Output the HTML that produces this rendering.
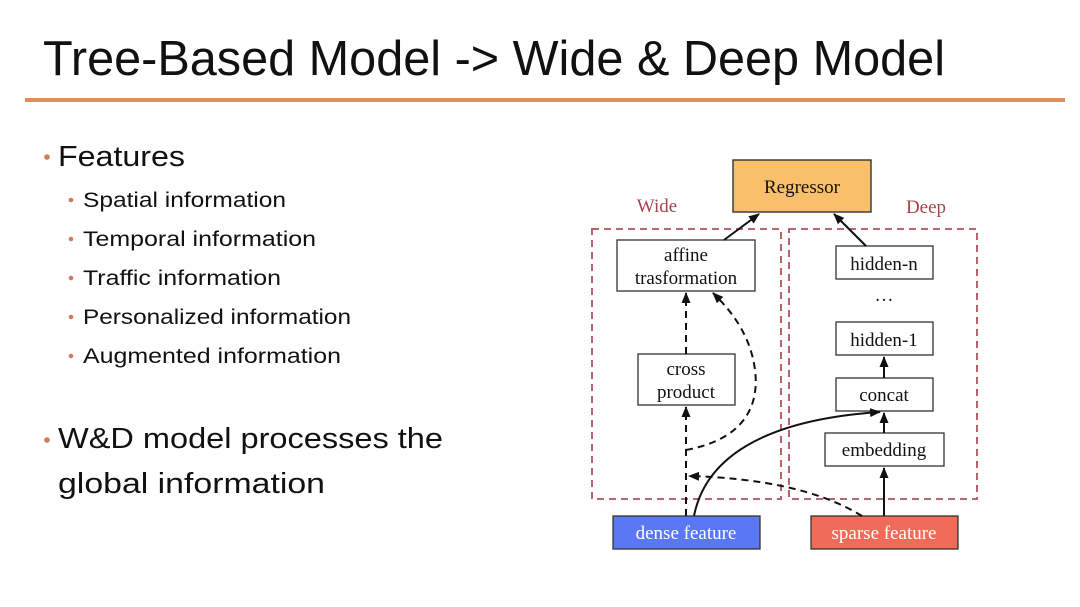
<!DOCTYPE html>
<html><head><meta charset="utf-8"><style>
html,body{margin:0;padding:0;background:#fff;}
svg{display:block;}
.s{font-family:"Liberation Sans",sans-serif;fill:#111;}
.t{font-family:"Liberation Serif",serif;fill:#111;font-size:19px;text-anchor:middle;}
</style></head><body>
<svg width="1080" height="607" viewBox="0 0 1080 607" xmlns="http://www.w3.org/2000/svg">
<defs>
<marker id="a" markerWidth="12" markerHeight="12" refX="10" refY="6" orient="auto" markerUnits="userSpaceOnUse">
<path d="M0,1.5 L11,6 L0,10.5 Z" fill="#111"/></marker>
</defs>
<rect width="1080" height="607" fill="#fff"/>
<text class="s" x="43" y="75" font-size="49" textLength="902" lengthAdjust="spacingAndGlyphs">Tree-Based Model -&gt; Wide &amp; Deep Model</text>
<rect x="25" y="98" width="1040" height="4" fill="#e08c5c"/>

<circle cx="47" cy="157" r="2.8" fill="#d07a5a"/>
<text class="s" x="58" y="166" font-size="29" textLength="127" lengthAdjust="spacingAndGlyphs">Features</text>
<g font-size="21">
<circle cx="71" cy="200" r="2.3" fill="#d07a5a"/>
<text class="s" x="83" y="207" textLength="203" lengthAdjust="spacingAndGlyphs">Spatial information</text>
<circle cx="71" cy="239" r="2.3" fill="#d07a5a"/>
<text class="s" x="83" y="246" textLength="233" lengthAdjust="spacingAndGlyphs">Temporal information</text>
<circle cx="71" cy="278" r="2.3" fill="#d07a5a"/>
<text class="s" x="83" y="285" textLength="198" lengthAdjust="spacingAndGlyphs">Traffic information</text>
<circle cx="71" cy="317" r="2.3" fill="#d07a5a"/>
<text class="s" x="83" y="324" textLength="268" lengthAdjust="spacingAndGlyphs">Personalized information</text>
<circle cx="71" cy="356" r="2.3" fill="#d07a5a"/>
<text class="s" x="83" y="363" textLength="258" lengthAdjust="spacingAndGlyphs">Augmented information</text>
</g>
<circle cx="47" cy="440" r="2.8" fill="#d07a5a"/>
<text class="s" x="58" y="448" font-size="29" textLength="385" lengthAdjust="spacingAndGlyphs">W&amp;D model processes the</text>
<text class="s" x="58" y="493" font-size="29" textLength="267" lengthAdjust="spacingAndGlyphs">global information</text>

<!-- diagram -->
<rect x="733" y="160" width="138" height="52" fill="#f9bf6b" stroke="#333" stroke-width="1.4"/>
<text class="t" x="802" y="193" font-size="20">Regressor</text>
<text class="t" x="657" y="212" style="fill:#a8434e">Wide</text>
<text class="t" x="926" y="213" style="fill:#a8434e">Deep</text>
<rect x="592" y="229" width="189" height="270" fill="none" stroke="#b0505a" stroke-width="1.8" stroke-dasharray="7,5"/>
<rect x="789" y="229" width="188" height="270" fill="none" stroke="#b0505a" stroke-width="1.8" stroke-dasharray="7,5"/>

<g stroke="#333" stroke-width="1.3">
<rect x="617" y="240" width="138" height="51" fill="#fff"/>
<rect x="638" y="354" width="97" height="51" fill="#fff"/>
<rect x="836" y="246" width="97" height="33" fill="#fff"/>
<rect x="836" y="322" width="97" height="33" fill="#fff"/>
<rect x="836" y="378" width="97" height="33" fill="#fff"/>
<rect x="825" y="433" width="119" height="33" fill="#fff"/>
<rect x="613" y="516" width="147" height="33" fill="#5a78f4"/>
<rect x="811" y="516" width="147" height="33" fill="#f06b58"/>
</g>
<text class="t" x="686" y="261">affine</text>
<text class="t" x="686" y="284">trasformation</text>
<text class="t" x="686" y="375">cross</text>
<text class="t" x="686" y="398">product</text>
<text class="t" x="884" y="270">hidden-n</text>
<text class="t" x="884" y="301">…</text>
<text class="t" x="884" y="346">hidden-1</text>
<text class="t" x="884" y="401">concat</text>
<text class="t" x="884" y="456">embedding</text>
<text class="t" x="686" y="539" style="fill:#fff">dense feature</text>
<text class="t" x="884" y="539" style="fill:#fff">sparse feature</text>

<g stroke="#111" stroke-width="2" fill="none">
<line x1="724" y1="240" x2="759" y2="214" marker-end="url(#a)"/>
<line x1="866" y1="246" x2="834" y2="214" marker-end="url(#a)"/>
<line x1="884" y1="378" x2="884" y2="357" marker-end="url(#a)"/>
<line x1="884" y1="433" x2="884" y2="413" marker-end="url(#a)"/>
<line x1="884" y1="516" x2="884" y2="468" marker-end="url(#a)"/>
<path d="M694,516 C705,460 760,420 880,412" marker-end="url(#a)"/>
<g stroke-dasharray="7,5">
<line x1="686" y1="354" x2="686" y2="293" marker-end="url(#a)"/>
<line x1="686" y1="516" x2="686" y2="407" marker-end="url(#a)"/>
<path d="M686,450 C740,440 760,410 755,370 C750,330 725,305 713,293" marker-end="url(#a)"/>
<path d="M862,516 C820,490 760,478 689,476" marker-end="url(#a)"/>
</g>
</g>
</svg>
</body></html>
